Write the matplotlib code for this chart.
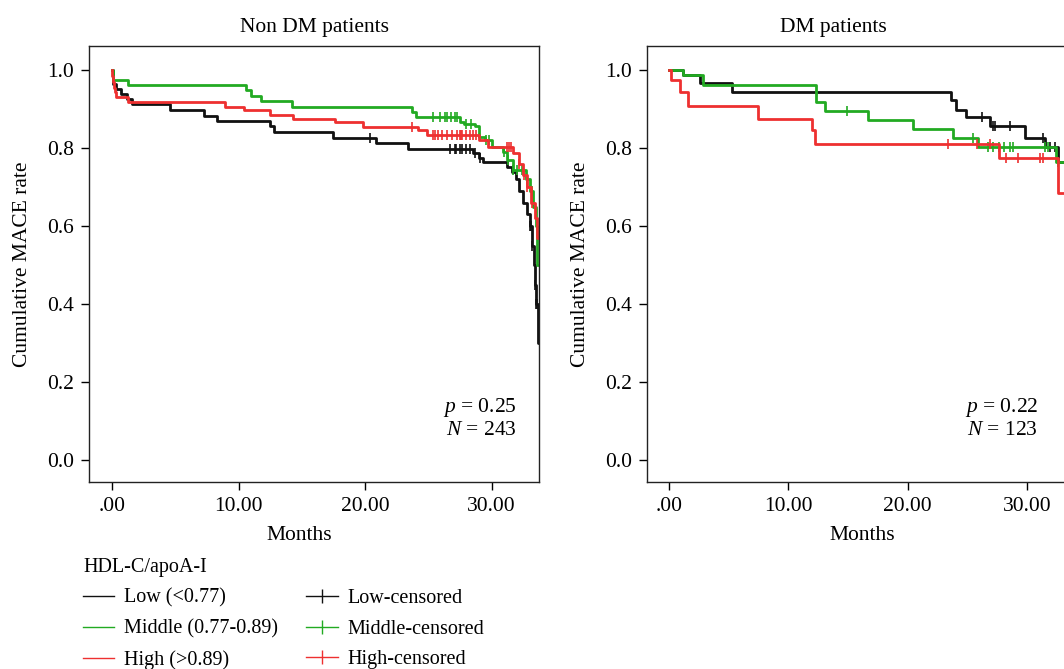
import numpy as np
import matplotlib
matplotlib.use("Agg")
import matplotlib.pyplot as plt
from matplotlib.lines import Line2D

plt.rcParams['font.family'] = ['Liberation Serif', 'DejaVu Serif']
plt.rcParams['mathtext.fontset'] = 'custom'
plt.rcParams['mathtext.rm'] = 'Liberation Serif'
plt.rcParams['mathtext.it'] = 'Liberation Serif:italic'

# Kaplan-Meier steps: event times (months) and rate after each step
# Non DM patients
nd_low_t = [0, 0.05, 0.3, 0.7, 1.2, 1.6, 4.6, 7.3, 8.3, 12.5, 12.8, 17.5, 20.9, 23.4, 28.5, 29.0, 29.3,
            31.2, 31.6, 31.9, 32.2, 32.5, 32.8, 33.0, 33.2, 33.35, 33.45, 33.55, 33.65]
nd_low_s = [1.0, 0.965, 0.953, 0.94, 0.925, 0.912, 0.897, 0.882, 0.870, 0.857, 0.842, 0.827, 0.814, 0.799,
            0.787, 0.775, 0.765, 0.752, 0.74, 0.72, 0.69, 0.66, 0.63, 0.60, 0.55, 0.50, 0.45, 0.40, 0.30]
nd_low_c = [20.4, 26.7, 27.1, 27.2, 27.5, 27.7, 28.0, 28.3, 28.7, 29.1, 33.0, 33.1, 33.2, 33.45, 33.55, 33.6]

nd_mid_t = [0, 0.1, 1.3, 10.6, 11.0, 11.8, 14.2, 23.7, 24.0, 27.5, 27.8, 28.7, 29.0, 29.5, 30.0,
            30.9, 31.2, 31.7, 32.7, 33.0, 33.3, 33.5, 33.62]
nd_mid_s = [1.0, 0.976, 0.963, 0.949, 0.934, 0.921, 0.906, 0.893, 0.879, 0.868, 0.862, 0.856, 0.829, 0.82,
            0.803, 0.79, 0.769, 0.744, 0.72, 0.69, 0.65, 0.60, 0.50]
nd_mid_c = [25.4, 25.9, 26.3, 26.5, 26.8, 27.1, 27.3, 28.0, 28.4, 29.6, 29.8, 31.0, 31.3, 31.7, 32.0,
            32.4, 32.8, 33.2]

nd_high_t = [0, 0.02, 0.06, 0.12, 0.2, 0.3, 1.3, 8.9, 10.4, 12.5, 14.3, 17.6, 19.8, 24.2, 24.9, 29.0,
             29.7, 31.7, 32.2, 32.5, 32.8, 33.1, 33.4, 33.6]
nd_high_s = [1.0, 0.985, 0.97, 0.955, 0.945, 0.932, 0.919, 0.906, 0.897, 0.886, 0.876, 0.866, 0.855,
             0.846, 0.833, 0.821, 0.803, 0.787, 0.76, 0.73, 0.70, 0.66, 0.62, 0.57]
nd_high_c = [23.7, 25.4, 25.5, 25.8, 26.1, 26.5, 26.9, 27.3, 27.5, 27.6, 27.7, 28.0, 28.3, 28.5, 28.8,
             31.2, 31.4, 31.5, 32.2, 32.6, 32.8, 33.2]

# DM patients
dm_low_t = [0, 1.2, 2.6, 5.3, 23.6, 24.0, 24.9, 26.9, 29.8, 31.5, 32.6]
dm_low_s = [1.0, 0.987, 0.966, 0.943, 0.923, 0.899, 0.879, 0.856, 0.827, 0.802, 0.765]
dm_low_c = [26.2, 27.1, 27.3, 28.6, 31.3, 31.9, 32.3]

dm_mid_t = [0, 1.2, 2.9, 12.3, 13.1, 16.7, 20.4, 23.8, 25.9, 32.4]
dm_mid_s = [1.0, 0.987, 0.963, 0.919, 0.896, 0.872, 0.848, 0.825, 0.804, 0.765]
dm_mid_c = [14.9, 25.5, 26.7, 27.1, 27.6, 28.1, 28.6, 28.8, 31.5, 31.75, 32.6]

dm_high_t = [0, 0.2, 0.9, 1.6, 7.5, 12.0, 12.2, 27.6, 32.6]
dm_high_s = [1.0, 0.974, 0.943, 0.909, 0.876, 0.846, 0.810, 0.774, 0.686]
dm_high_c = [23.4, 25.8, 26.9, 28.2, 29.2, 31.1, 31.3]

group_names = ["Low (<0.77)", "Middle (0.77-0.89)", "High (>0.89)"]
censor_names = ["Low-censored", "Middle-censored", "High-censored"]
colors = ["#111111", "#22aa22", "#ee3030"]

panel_titles = ["Non DM patients", "DM patients"]
p_texts = ["$p$ = 0.25", "$p$ = 0.22"]
n_texts = ["$N$ = 243", "$N$ = 123"]
xticks = [0, 10, 20, 30]
xtick_labels = [".00", "10.00", "20.00", "30.00"]
yticks = [0.0, 0.2, 0.4, 0.6, 0.8, 1.0]
ytick_labels = ["0.0", "0.2", "0.4", "0.6", "0.8", "1.0"]

panels = [
    [(nd_low_t, nd_low_s, nd_low_c), (nd_mid_t, nd_mid_s, nd_mid_c), (nd_high_t, nd_high_s, nd_high_c)],
    [(dm_low_t, dm_low_s, dm_low_c), (dm_mid_t, dm_mid_s, dm_mid_c), (dm_high_t, dm_high_s, dm_high_c)],
]

W, H = 1064, 669
fig = plt.figure(figsize=(W / 100, H / 100), dpi=100)

# axes boxes in pixels: left, right edge; shared top/bottom
boxes = [(89, 539), (647, 1066)]
xlims = [(-1.82, 33.75), (-1.83, 33.25)]
line_ends = [33.72, 33.3]
text_x = [32.0, 30.9]
title_x = [0.5, 0.444]
xlabel_x = [0.467, 0.513]
top, bottom = 46, 482

FS = 15.5

for i, (x0, x1) in enumerate(boxes):
    ax = fig.add_axes([x0 / W, 1 - bottom / H, (x1 - x0) / W, (bottom - top) / H])
    for (t, s, c), col in zip(panels[i], colors):
        t = np.array(t)
        s = np.array(s)
        ax.step(np.append(t, line_ends[i]), np.append(s, s[-1]), where='post', color=col, lw=2.0)
        idx = np.searchsorted(t, c, side='right') - 1
        ax.plot(c, s[idx], ls='none', marker='|', ms=7, mew=1.2, color=col)

    ax.set_xlim(*xlims[i])
    ax.set_ylim(-0.056, 1.062)
    ax.set_xticks(xticks)
    ax.set_xticklabels(xtick_labels)
    ax.set_yticks(yticks)
    ax.set_yticklabels(ytick_labels)
    ax.tick_params(direction='out', length=6, width=1, labelsize=FS, pad=5)
    for sp in ax.spines.values():
        sp.set_linewidth(1.0)
        sp.set_color('#222222')

    ttl = ax.set_title(panel_titles[i], fontsize=FS, pad=10)
    ttl.set_x(title_x[i])
    ax.set_xlabel("Months", fontsize=FS)
    ax.xaxis.set_label_coords(xlabel_x[i], -0.1)
    ax.set_ylabel("Cumulative MACE rate", fontsize=FS)
    ax.yaxis.set_label_coords(-57 / (x1 - x0), 0.5)

    ax.text(text_x[i], 0.136, p_texts[i], fontsize=FS, ha='right', va='center')
    ax.text(text_x[i], 0.077, n_texts[i], fontsize=FS, ha='right', va='center')

handles = [Line2D([], [], color=c, lw=1.0) for c in colors]
handles += [Line2D([], [], color=c, lw=1.0, marker='|', ms=10, mew=1.0) for c in colors]
fig.legend(handles, group_names + censor_names, title="HDL-C/apoA-I",
           loc='upper left', bbox_to_anchor=(83 / W, 1 - 558 / H), ncol=2, frameon=False,
           fontsize=14.5, title_fontsize=14.5, alignment='left', handlelength=1.55,
           handletextpad=0.5, columnspacing=1.4, labelspacing=0.58, borderpad=0, borderaxespad=0)

fig.savefig("out.png", dpi=100)
